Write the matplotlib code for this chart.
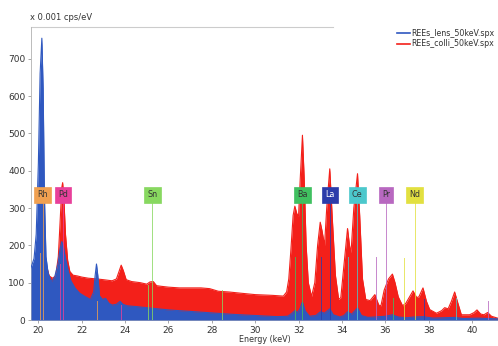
import matplotlib
matplotlib.use("Agg")
import matplotlib.pyplot as plt

# ---- data ----
lens_energy = [19.66, 19.8, 19.9, 20.0, 20.08, 20.16, 20.22, 20.28, 20.35, 20.45, 20.6, 20.75, 20.9, 21.0,
               21.08, 21.15, 21.25, 21.38, 21.5, 21.7, 21.9, 22.15, 22.4, 22.55, 22.62, 22.68, 22.74, 22.82,
               22.95, 23.1, 23.25, 23.4, 23.6, 23.77, 23.9, 24.1, 24.5, 25.0, 25.5, 26.0, 27.0, 28.0, 29.0,
               30.0, 31.0, 31.5, 31.7, 31.83, 31.95, 32.05, 32.18, 32.3, 32.5, 32.8, 33.01, 33.2, 33.44, 33.6,
               33.9, 34.1, 34.26, 34.45, 34.72, 34.9, 35.2, 35.5, 36.0, 36.33, 36.6, 37.0, 37.3, 37.75, 38.2,
               39.2, 39.6, 40.3, 41.18]
lens_cps = [140, 165, 230, 420, 660, 755, 620, 330, 170, 125, 103, 115, 150, 190,
            210, 198, 165, 130, 105, 85, 72, 63, 55, 75, 120, 150, 120, 65,
            55, 58, 45, 40, 42, 50, 42, 38, 36, 33, 30, 27, 23, 19, 15,
            12, 9, 10, 18, 25, 20, 28, 48, 25, 10, 12, 22, 18, 30, 14,
            8, 12, 22, 15, 32, 12, 7, 8, 10, 14, 8, 6, 8, 9, 5,
            7, 4, 5, 3]

colli_energy = [19.66, 19.85, 20.0, 20.2, 20.35, 20.5, 20.65, 20.8, 20.92, 21.0, 21.08, 21.12, 21.18, 21.25,
                21.35, 21.45, 21.6, 21.8, 22.0, 22.3, 22.7, 23.0, 23.4, 23.6, 23.72, 23.82, 23.92, 24.05,
                24.3, 24.7, 25.0, 25.15, 25.3, 25.45, 25.7, 26.0, 26.5, 27.0, 27.5, 27.9, 28.3, 28.8, 29.3,
                30.0, 30.8, 31.3, 31.45, 31.55, 31.65, 31.75, 31.83, 31.92, 32.0, 32.08, 32.18, 32.26, 32.35,
                32.45, 32.6, 32.75, 32.88, 33.0, 33.08, 33.2, 33.3, 33.44, 33.55, 33.7, 33.85, 33.95, 34.1,
                34.26, 34.35, 34.42, 34.55, 34.72, 34.82, 34.95, 35.1, 35.3, 35.52, 35.7, 35.8, 35.95, 36.15,
                36.33, 36.45, 36.6, 36.8, 36.95, 37.1, 37.28, 37.45, 37.55, 37.74, 37.9, 38.05, 38.36, 38.6,
                38.74, 38.9, 39.05, 39.2, 39.35, 39.51, 39.89, 40.1, 40.23, 40.4, 40.55, 40.72, 40.9, 41.18]
colli_cps = [110, 130, 165, 190, 150, 118, 112, 118, 170, 260, 355, 368, 320, 230,
             160, 130, 120, 118, 115, 112, 110, 108, 105, 110, 130, 147, 132, 108,
             103, 100, 96, 102, 103, 92, 90, 88, 86, 86, 86, 84, 77, 75, 72,
             68, 66, 64, 75, 110, 190, 280, 305, 285, 278, 380, 495, 380, 200,
             100, 63, 100, 200, 262, 240, 200, 300, 405, 280, 120, 55, 60, 150,
             245, 200, 180, 300, 392, 280, 110, 55, 52, 68, 40, 38, 80, 110,
             123, 100, 62, 38, 45, 60, 78, 60, 62, 86, 50, 28, 18, 25,
             33, 30, 50, 75, 45, 14, 14, 20, 27, 16, 14, 20, 10, 5]

series_labels = ["REEs_lens_50keV.spx", "REEs_colli_50keV.spx"]

elements = ["Rh", "Pd", "Sn", "Ba", "La", "Ce", "Pr", "Nd"]
element_label_energy = [20.20, 21.15, 25.26, 32.17, 33.44, 34.70, 36.03, 37.36]
element_colors = ["#f0a050", "#e8409a", "#88d860", "#40c060", "#2c3caa", "#4cc8cc", "#b868c0", "#e2e040"]
element_text_colors = ["#333333", "#333333", "#333333", "#333333", "#ffffff", "#333333", "#333333", "#333333"]
label_level = 335

# secondary lines: (element index, energy, height)
line_elem = [0, 0, 1, 1, 2, 2, 3, 3, 4, 4, 5, 5, 6, 6, 7]
line_energy = [20.07, 22.72, 21.02, 23.82, 25.04, 28.49, 31.82, 36.38, 33.03, 37.80, 34.28, 39.26, 35.55, 40.75, 36.85]
line_height = [180, 50, 150, 40, 95, 80, 170, 60, 170, 55, 170, 60, 170, 50, 166]

# ---- figure ----
fig = plt.figure(figsize=(4.98, 3.46), dpi=100)
ax = fig.add_axes([31 / 498, 26 / 346, 467 / 498, 293 / 346])

red = "#f3201a"
blue = "#2f58c0"
ax.fill_between(colli_energy, colli_cps, 0, color=red, lw=0, zorder=2)
ax.plot(colli_energy, colli_cps, color=red, lw=0.8, zorder=2)
ax.fill_between(lens_energy, lens_cps, 0, color=blue, lw=0, zorder=3)
ax.plot(lens_energy, lens_cps, color=blue, lw=0.8, zorder=3)

# marker lines
for e, c in zip(element_label_energy, element_colors):
    ax.plot([e, e], [0, label_level - 20], color=c, lw=0.7, alpha=0.8, zorder=4)
for i, e, h in zip(line_elem, line_energy, line_height):
    ax.plot([e, e], [0, h], color=element_colors[i], lw=0.7, alpha=0.8, zorder=4)
for name, e, c, tc in zip(elements, element_label_energy, element_colors, element_text_colors):
    ax.text(e, label_level, name, ha="center", va="center", fontsize=5.8, color=tc, zorder=5,
            bbox=dict(boxstyle="square,pad=0.4", fc=c, ec=c, lw=0.5))

ax.set_xlim(19.66, 41.2)
ax.set_ylim(0, 785)
ax.set_xticks(range(20, 41, 2))
ax.set_yticks(range(0, 701, 100))
ax.tick_params(labelsize=6.5, colors="#999999", labelcolor="#333333", length=2.5, width=0.6, pad=1.5)
for s in ["top", "right"]:
    ax.spines[s].set_visible(False)
for s in ["left", "bottom"]:
    ax.spines[s].set_color("#bbbbbb")
    ax.spines[s].set_linewidth(0.7)

ax.set_xlabel("Energy (keV)", fontsize=5.8, color="#333333", labelpad=0.5)
ax.plot([0, (333 - 31) / 467], [1, 1], transform=ax.transAxes, color="#cccccc", lw=0.8, clip_on=False)
fig.text(30 / 498, 1 - 18 / 346, "x 0.001 cps/eV", fontsize=6, color="#333333", va="center")

# legend
lx0, lx1 = 397 / 498, 410 / 498
for y, c, lab in [(33, blue, series_labels[0]), (44, red, series_labels[1])]:
    yy = 1 - y / 346
    fig.add_artist(plt.Line2D([lx0, lx1], [yy, yy], color=c, lw=1.2, transform=fig.transFigure))
    fig.text(411 / 498, yy, lab, fontsize=5.7, color="#333333", va="center")

fig.savefig("out.png", dpi=100)
